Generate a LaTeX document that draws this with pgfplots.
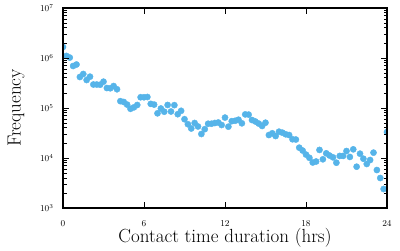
\documentclass[border=0pt]{standalone}
\usepackage{fontspec}
\usepackage{pgfplots}
\usepackage{pgfplotstable}
\pgfplotsset{compat=1.18}
\definecolor{dotblue}{HTML}{56B4E9}
\pgfplotstableread{
t f
0.00 1.66e6
0.25 1.10e6
0.50 1.02e6
0.75 6.92e5
1.00 7.41e5
1.25 4.17e5
1.50 4.79e5
1.75 3.63e5
2.00 4.23e5
2.25 2.95e5
2.50 2.95e5
2.75 2.92e5
3.00 3.36e5
3.25 2.51e5
3.50 2.48e5
3.75 2.75e5
4.00 2.37e5
4.25 1.37e5
4.50 1.32e5
4.75 1.17e5
5.00 9.64e4
5.25 1.03e5
5.50 1.15e5
5.75 1.64e5
6.00 1.64e5
6.25 1.66e5
6.50 1.21e5
6.75 1.17e5
7.00 7.83e4
7.25 9.77e4
7.50 8.43e4
7.75 1.15e5
8.00 8.51e4
8.25 1.14e5
8.50 7.52e4
8.75 8.79e4
9.00 5.97e4
9.25 4.74e4
9.50 3.89e4
9.75 5.01e4
10.00 4.27e4
10.25 3.02e4
10.50 3.77e4
10.75 4.85e4
11.00 4.85e4
11.25 5.01e4
11.50 5.13e4
11.75 4.57e4
12.00 6.43e4
12.25 4.23e4
12.50 5.45e4
12.75 5.55e4
13.00 5.83e4
13.25 4.94e4
13.50 7.45e4
13.75 7.38e4
14.00 5.75e4
14.25 5.37e4
14.50 4.88e4
14.75 4.37e4
15.00 5.08e4
15.25 2.88e4
15.50 3.12e4
15.75 2.75e4
16.00 3.36e4
16.25 3.21e4
16.50 2.98e4
16.75 2.88e4
17.00 2.37e4
17.25 2.34e4
17.50 1.61e4
17.75 1.41e4
18.00 1.17e4
18.25 1.01e4
18.50 8.13e3
18.75 8.51e3
19.00 1.45e4
19.25 9.42e3
19.50 1.24e4
19.75 1.12e4
20.00 1.03e4
20.25 8.05e3
20.50 1.10e4
20.75 1.10e4
21.00 1.38e4
21.25 1.05e4
21.50 1.49e4
21.75 6.70e3
22.00 1.22e4
22.25 9.68e3
22.50 7.59e3
22.75 9.12e3
23.00 1.28e4
23.25 5.75e3
23.50 3.98e3
23.75 2.40e3
24.00 3.31e4
}\datatable
\begin{document}
\begin{tikzpicture}
\begin{axis}[
  scale only axis, width=324pt, height=200pt,
  ymode=log, xmin=0, xmax=24, ymin=1e3, ymax=1e7,
  xtick={0,6,12,18,24},
  ytick={1e3,1e4,1e5,1e6,1e7},
  tick align=inside,
  major tick length=6pt, minor tick length=3.5pt,
  axis line style={line width=2pt},
  tick style={black, line width=0.8pt},
  axis on top=true,
  clip marker paths=true,
  tick label style={font=\fontsize{9}{10}\selectfont},
  xticklabel style={yshift=-9pt},
  yticklabel style={xshift=-6pt},
  label style={font=\fontsize{19}{22}\selectfont},
  xlabel={Contact time duration (hrs)},
  ylabel={Frequency},
  xlabel style={at={(axis description cs:0.5,0)}, anchor=base, yshift=-34.5pt},
  ylabel style={at={(axis description cs:-0.1450,0.5)}, anchor=center},
]
\addplot[only marks, mark=*, mark size=3.1pt, color=dotblue, mark options={draw=dotblue, fill=dotblue}] table[x=t,y=f]{\datatable};
\end{axis}
\coordinate (a) at ([shift={(-63pt,-42pt)}]current axis.south west);
\coordinate (b) at ([shift={(13pt,8pt)}]current axis.north east);
\pgfresetboundingbox
\useasboundingbox (a) rectangle (b);
\end{tikzpicture}
\end{document}
